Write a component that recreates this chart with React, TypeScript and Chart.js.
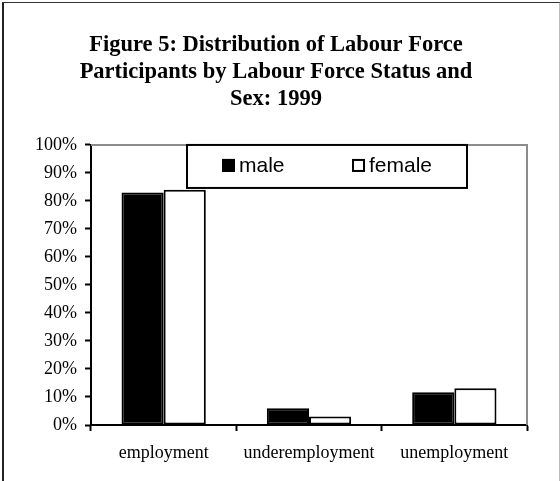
import React, { useEffect, useRef } from "react";
import { Chart, registerables } from "chart.js";

Chart.register(...registerables);

const titleLines = [
  "Figure 5: Distribution of Labour Force",
  "Participants by Labour Force Status and",
  "Sex: 1999",
];
const categories = ["employment", "underemployment", "unemployment"];
const seriesNames = ["male", "female"];
const maleValues = [83, 6, 11.7];
const femaleValues = [84, 3, 13.1];
const yTickValues = [0, 10, 20, 30, 40, 50, 60, 70, 80, 90, 100];

const SERIF = "'Liberation Serif', 'Times New Roman', serif";
const SANS = "'Liberation Sans', Arial, sans-serif";

const framePlugin = {
  id: "frame",
  beforeDatasetsDraw(chart: any) {
    const { ctx, chartArea: a } = chart;
    ctx.save();
    ctx.strokeStyle = "#8c8c8c";
    ctx.lineWidth = 2;
    ctx.beginPath();
    ctx.moveTo(a.left, a.top);
    ctx.lineTo(a.right, a.top);
    ctx.lineTo(a.right, a.bottom);
    ctx.stroke();
    ctx.restore();
  },
  afterDraw(chart: any) {
    const { ctx, chartArea: a } = chart;
    const bx = a.left + 96;
    const by = a.top;
    const bw = 280;
    const bh = 43;
    ctx.save();
    ctx.fillStyle = "#fff";
    ctx.fillRect(bx, by, bw, bh);
    ctx.strokeStyle = "#000";
    ctx.lineWidth = 2;
    ctx.strokeRect(bx, by, bw, bh);
    ctx.font = `21px ${SANS}`;
    ctx.textBaseline = "middle";
    ctx.textAlign = "left";
    const itemX = [bx + 35, bx + 165];
    chart.data.datasets.forEach((ds: any, i: number) => {
      const x = itemX[i];
      const cy = by + bh / 2 - 1;
      ctx.fillStyle = ds.backgroundColor;
      ctx.fillRect(x, cy - 6.5, 13, 13);
      ctx.strokeStyle = "#000";
      ctx.lineWidth = 2;
      ctx.strokeRect(x + 1, cy - 5.5, 11, 11);
      ctx.fillStyle = "#000";
      ctx.fillText(ds.label, x + 17, cy + 1);
    });
    ctx.restore();
  },
};

export default function App() {
  const ref = useRef<HTMLCanvasElement | null>(null);
  useEffect(() => {
    if (!ref.current) return;
    const chart = new Chart(ref.current, {
      type: "bar",
      data: {
        labels: categories,
        datasets: [
          {
            label: seriesNames[0],
            data: maleValues,
            backgroundColor: "#000",
            borderColor: "#000",
            borderWidth: 2,
            borderSkipped: false,
            categoryPercentage: 0.58,
            barPercentage: 1,
          },
          {
            label: seriesNames[1],
            data: femaleValues,
            backgroundColor: "#fff",
            borderColor: "#000",
            borderWidth: 2,
            borderSkipped: false,
            categoryPercentage: 0.58,
            barPercentage: 1,
          },
        ],
      },
      options: {
        responsive: false,
        animation: false,
        devicePixelRatio: 1,
        layout: { padding: { left: 25, right: 33, top: 0, bottom: 0 } },
        plugins: {
          legend: { display: false },
          tooltip: { enabled: false },
          title: {
            display: true,
            text: titleLines,
            color: "#000",
            font: { family: SERIF, size: 22.5, weight: "bold", lineHeight: 1.22 },
            padding: { top: 31, bottom: 31.6 },
          },
        },
        scales: {
          x: {
            grid: {
              display: true,
              drawOnChartArea: false,
              offset: true,
              tickLength: 6,
              tickColor: "#000",
              tickWidth: 2,
            },
            border: { color: "#000", width: 2 },
            ticks: { color: "#000", font: { family: SERIF, size: 18 }, padding: 11, maxRotation: 0 },
            afterFit: (s: any) => {
              s.height = 56;
            },
          },
          y: {
            min: 0,
            max: 100,
            afterBuildTicks: (s: any) => {
              s.ticks = yTickValues.map((v) => ({ value: v }));
            },
            grid: {
              display: true,
              drawOnChartArea: false,
              tickLength: 6,
              tickColor: "#000",
              tickWidth: 2,
            },
            border: { color: "#000", width: 2 },
            ticks: {
              color: "#000",
              font: { family: SERIF, size: 18 },
              padding: 8,
              callback: (v: any) => `${v}%`,
            },
            afterFit: (s: any) => {
              s.width = 66;
            },
          },
        },
      },
      plugins: [framePlugin],
    } as any);
    return () => chart.destroy();
  }, []);
  return (
    <div
      style={{
        position: "absolute",
        left: 0,
        top: 0,
        width: 560,
        height: 481,
        overflow: "hidden",
        background: "#fff",
      }}
    >
      <div
        style={{
          position: "absolute",
          left: 2,
          top: 2,
          width: 555,
          height: 520,
          borderLeft: "2px solid #222",
          borderTop: "1px solid #333",
          borderRight: "2px solid #bbb",
        }}
      />
      <canvas ref={ref} width={560} height={481} style={{ position: "absolute", left: 0, top: 0 }} />
    </div>
  );
}
